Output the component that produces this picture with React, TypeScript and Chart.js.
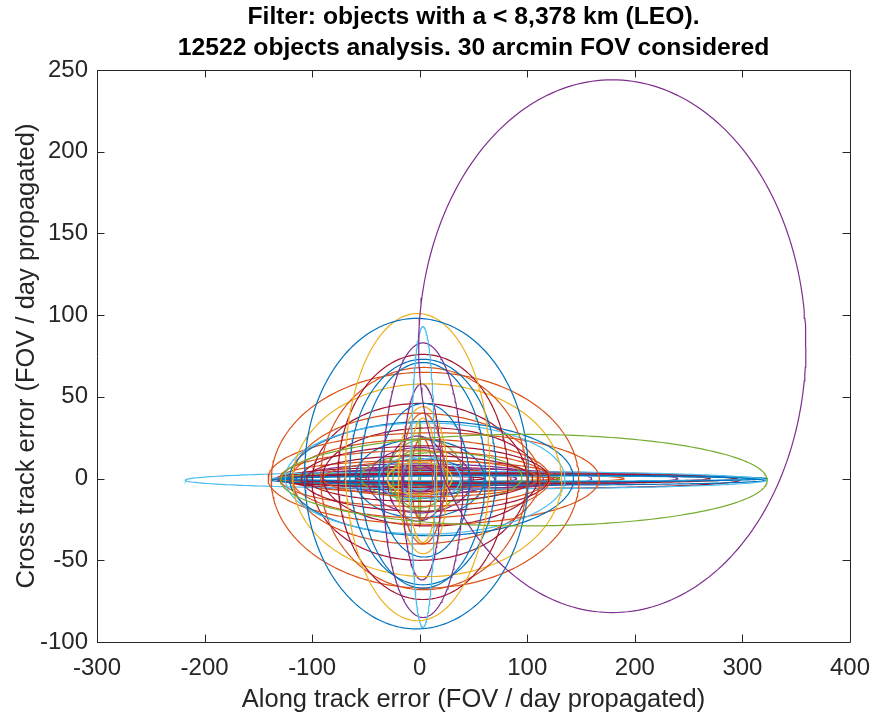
import React, { useEffect, useRef } from "react";
import { Chart, registerables } from "chart.js";

Chart.register(...registerables);

const titleLines = [
  "Filter: objects with a < 8,378 km (LEO).",
  "12522 objects analysis. 30 arcmin FOV considered",
];
const xAxisLabel = "Along track error (FOV / day propagated)";
const yAxisLabel = "Cross track error (FOV / day propagated)";
const xTicks = [-300, -200, -100, 0, 100, 200, 300, 400];
const yTicks = [-100, -50, 0, 50, 100, 150, 200, 250];
const palette = ["#0072BD", "#D95319", "#EDB120", "#7E2F8E", "#77AC30", "#4DBEEE", "#A2142F"];

// Error ellipses: centre (along, cross), semi-axes (along, cross), colour index
const centerX = [
  179, 97, -3, -2, 3, 3, 3, 3, 3, 4, 5, 7, 2, 4, 3, 3, 3, 5, 11, 13,
  0, 10, 1, -3, 5, -5, 0, 10, 0, 20, 0, 0, 0, 5, -2, 3, 0, 0, 2,
  52, 96, 92, 90, 83, 85, 60, 30, 70, 0, 0, 20,
  0, 0, 5, 0, 0, 0, 2, 0, 0,
  0, 0, -2, 0,
];
const centerY = [
  81, -1, 3, 7, 1, -1, 1, 4, 2, 0, -1, -1, -2, -1, -1, 0, -1, 0, 0, 0,
  -2, 1, 0, 0, 0, 0, 0, 0, -1, 1, 0, 0, 0, 2, 0, 0, 0, 0, 0,
  -1, 0, -1, 0, -1, 0, 0, 0, 0, 0, 0, 0,
  3, 0, 0, 0, 0, 0, 0, 0, -1,
  0, 1, 0, 0,
];
const radiusX = [
  180, 226, 104, 67, 11, 37, 79, 68, 58, 96, 143, 125, 18, 42, 23, 20, 13, 130, 132, 154,
  100, 100, 120, 115, 115, 125, 105, 100, 48, 75, 60, 38, 30, 35, 28, 20, 25, 15, 10,
  270, 227, 230, 228, 214, 210, 180, 160, 200, 130, 110, 140,
  1, 50, 80, 90, 130, 125, 45, 60, 70,
  130, 128, 132, 115,
];
const radiusY = [
  163, 28, 95, 94, 92, 84, 75, 69, 69, 68, 66, 59, 60, 47, 45, 40, 38, 34, 35, 28,
  48, 30, 24, 40, 20, 17, 14, 11, 20, 15, 24, 14, 10, 22, 26, 14, 18, 8, 25,
  5.3, 2, 3, 1.5, 5, 3, 4, 3, 2.5, 4, 3, 6,
  33, 8, 6, 4, 3, 2, 12, 1.5, 9,
  7, 10, 5, 9,
];
const colorIndex = [
  3, 4, 0, 2, 5, 3, 6, 0, 0, 1, 1, 2, 3, 0, 2, 1, 2, 5, 0, 1,
  6, 6, 1, 1, 6, 1, 6, 1, 3, 4, 0, 5, 2, 4, 3, 5, 4, 3, 1,
  5, 0, 0, 5, 6, 6, 3, 1, 6, 4, 2, 3,
  4, 6, 1, 3, 6, 1, 0, 6, 3,
  6, 1, 6, 3,
];

const STEPS = 240;

function ellipsePoints(i: number) {
  const pts: { x: number; y: number }[] = [];
  for (let k = 0; k <= STEPS; k++) {
    const t = (2 * Math.PI * k) / STEPS;
    pts.push({ x: centerX[i] + radiusX[i] * Math.cos(t), y: centerY[i] + radiusY[i] * Math.sin(t) });
  }
  return pts;
}

const FONT = "'Liberation Sans', Arial, Helvetica, sans-serif";
const AXIS_COLOR = "#262626";

const framePlugin = {
  id: "matlabFrame",
  afterDraw(chart: any) {
    const { ctx, chartArea } = chart;
    const { left, right, top, bottom } = chartArea;
    const xs = chart.scales.x;
    const ys = chart.scales.y;
    ctx.save();
    ctx.strokeStyle = AXIS_COLOR;
    ctx.lineWidth = 1;
    ctx.beginPath();
    ctx.rect(Math.round(left) + 0.5, Math.round(top) + 0.5, Math.round(right - left), Math.round(bottom - top));
    ctx.stroke();
    const tl = 7.5;
    ctx.beginPath();
    xTicks.forEach((v) => {
      const px = Math.round(xs.getPixelForValue(v)) + 0.5;
      ctx.moveTo(px, bottom);
      ctx.lineTo(px, bottom - tl);
      ctx.moveTo(px, top);
      ctx.lineTo(px, top + tl);
    });
    yTicks.forEach((v) => {
      const py = Math.round(ys.getPixelForValue(v)) + 0.5;
      ctx.moveTo(left, py);
      ctx.lineTo(left + tl, py);
      ctx.moveTo(right, py);
      ctx.lineTo(right - tl, py);
    });
    ctx.stroke();
    // title
    ctx.fillStyle = "#000000";
    ctx.font = `bold 24.7px ${FONT}`;
    ctx.textAlign = "center";
    ctx.textBaseline = "middle";
    const cx = (left + right) / 2;
    titleLines.forEach((line, i) => {
      ctx.fillText(line, cx, 17.5 + i * 31);
    });
    ctx.restore();
  },
};

export default function App() {
  const canvasRef = useRef<HTMLCanvasElement | null>(null);

  useEffect(() => {
    if (!canvasRef.current) return;
    const datasets = centerX.map((_, i) => ({
      data: ellipsePoints(i),
      showLine: true,
      borderColor: palette[colorIndex[i]],
      backgroundColor: palette[colorIndex[i]],
      borderWidth: 1.2,
      pointRadius: 0,
      pointHoverRadius: 0,
      fill: false,
      tension: 0,
    }));
    const chart = new Chart(canvasRef.current, {
      type: "scatter",
      data: { datasets },
      plugins: [framePlugin],
      options: {
        animation: false,
        responsive: false,
        events: [],
        layout: { padding: { left: 0, right: 25, top: 70, bottom: 0 } },
        plugins: { legend: { display: false }, tooltip: { enabled: false }, title: { display: false } },
        scales: {
          x: {
            type: "linear",
            min: -300,
            max: 400,
            afterBuildTicks: (s: any) => {
              s.ticks = xTicks.map((v) => ({ value: v }));
            },
            afterFit: (s: any) => {
              s.height = 82;
              s.paddingLeft = 0;
              s.paddingRight = 0;
              s.paddingTop = 0;
              s.paddingBottom = 0;
            },
            grid: { display: false, drawTicks: false },
            border: { display: false },
            ticks: {
              color: AXIS_COLOR,
              font: { family: FONT, size: 24 },
              padding: 12,
              maxRotation: 0,
              autoSkip: false,
              callback: (v: any) => String(v),
            },
            title: {
              display: true,
              text: xAxisLabel,
              color: AXIS_COLOR,
              font: { family: FONT, size: 25.5 },
              padding: { top: 0, bottom: 9 },
            },
          },
          y: {
            type: "linear",
            min: -100,
            max: 250,
            afterBuildTicks: (s: any) => {
              s.ticks = yTicks.map((v) => ({ value: v }));
            },
            afterFit: (s: any) => {
              s.width = 97;
              s.paddingLeft = 0;
              s.paddingRight = 0;
              s.paddingTop = 0;
              s.paddingBottom = 0;
            },
            grid: { display: false, drawTicks: false },
            border: { display: false },
            ticks: {
              color: AXIS_COLOR,
              font: { family: FONT, size: 24 },
              padding: 9,
              autoSkip: false,
              callback: (v: any) => String(v),
            },
            title: {
              display: true,
              text: yAxisLabel,
              color: AXIS_COLOR,
              font: { family: FONT, size: 25.5 },
              padding: { top: 12, bottom: 0 },
            },
          },
        },
      } as any,
    });
    return () => chart.destroy();
  }, []);

  return (
    <div style={{ position: "absolute", left: 0, top: 0, width: 875, height: 724, background: "#ffffff" }}>
      <canvas ref={canvasRef} width={875} height={724} style={{ width: 875, height: 724, display: "block" }} />
    </div>
  );
}
